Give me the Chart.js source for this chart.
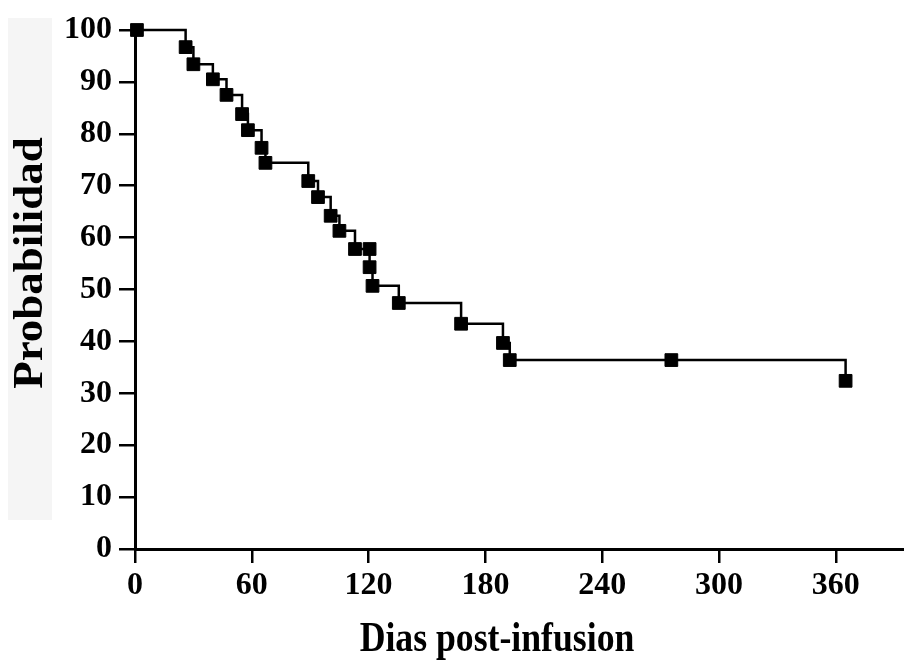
<!DOCTYPE html>
<html>
<head>
<meta charset="utf-8">
<script src="https://cdn.jsdelivr.net/npm/chart.js@4"></script>
<style>
  html, body { margin: 0; padding: 0; background: #fff; }
  #wrap { width: 904px; height: 662px; }
</style>
</head>
<body>
<div id="wrap"><canvas id="chart" width="904" height="662"></canvas></div>
<script>
// Kaplan-Meier curve, values
const days = [1, 26, 30, 40, 47, 55, 58, 65, 67, 89, 94, 100.5, 105, 113, 120.5, 120.5, 122, 135.5, 167.5, 189, 192.5, 275.5, 365];
const survival = [100, 96.7, 93.4, 90.5, 87.5, 83.8, 80.7, 77.3, 74.4, 70.9, 67.8, 64.2, 61.3, 57.8, 57.8, 54.3, 50.7, 47.4, 43.4, 39.7, 36.4, 36.4, 32.4];
const xTicks = [0, 60, 120, 180, 240, 300, 360];
const yTicks = [0, 10, 20, 30, 40, 50, 60, 70, 80, 90, 100];
const xTitle = 'Dias post-infusion';
const yTitle = 'Probabilidad';

const serif = '"Liberation Serif", "Times New Roman", serif';

// white page + light grey box behind the y title
const backdrop = {
    id: 'backdrop',
    beforeDraw(chart) {
        const ctx = chart.ctx;
        ctx.save();
        ctx.fillStyle = '#ffffff';
        ctx.fillRect(0, 0, chart.width, chart.height);
        ctx.fillStyle = '#f5f5f5';
        ctx.fillRect(8, 18, 44, 502);
        ctx.restore();
    }
};

// axis titles drawn by hand so the narrow / tall look of the original fits
const titles = {
    id: 'titles',
    afterDraw(chart) {
        const ctx = chart.ctx;
        ctx.save();
        ctx.fillStyle = '#000';
        ctx.textAlign = 'center';
        ctx.textBaseline = 'alphabetic';
        ctx.font = 'bold 43px ' + serif;
        ctx.translate(497, 651);
        ctx.scale(0.83, 1);
        ctx.fillText(xTitle, 0, 0);
        ctx.restore();

        ctx.save();
        ctx.fillStyle = '#000';
        ctx.textAlign = 'center';
        ctx.textBaseline = 'alphabetic';
        ctx.font = 'bold 42px ' + serif;
        ctx.translate(42, 263);
        ctx.rotate(-Math.PI / 2);
        ctx.scale(1.07, 1);
        ctx.fillText(yTitle, 0, 0);
        ctx.restore();
    }
};

const points = days.map((d, i) => ({ x: d, y: survival[i] }));

new Chart(document.getElementById('chart'), {
    type: 'line',
    data: {
        datasets: [{
            data: points,
            stepped: 'before',
            clip: false,
            borderColor: '#000',
            borderWidth: 2.5,
            backgroundColor: '#000',
            pointStyle: 'rect',
            pointRadius: 9,
            pointBorderWidth: 1,
            pointBorderColor: '#000',
            pointBackgroundColor: '#000',
            fill: false
        }]
    },
    options: {
        responsive: false,
        animation: false,
        layout: { autoPadding: false, padding: { top: 30, right: 0, left: 0, bottom: 0 } },
        plugins: {
            legend: { display: false },
            tooltip: { enabled: false }
        },
        scales: {
            x: {
                type: 'linear',
                min: 0,
                max: 395,
                afterBuildTicks: (scale) => { scale.ticks = xTicks.map(v => ({ value: v })); },
                afterFit: (scale) => { scale.height = 113; },
                grid: { drawOnChartArea: false, drawTicks: true, tickLength: 14, color: '#000', lineWidth: 2.5 },
                border: { display: true, color: '#000', width: 3 },
                ticks: { color: '#000', font: { family: serif, size: 32, weight: 'bold' }, padding: 4, maxRotation: 0 }
            },
            y: {
                min: 0,
                max: 100,
                afterBuildTicks: (scale) => { scale.ticks = yTicks.map(v => ({ value: v })); },
                afterFit: (scale) => { scale.width = 135; },
                grid: { drawOnChartArea: false, drawTicks: true, tickLength: 16, color: '#000', lineWidth: 2.5 },
                border: { display: true, color: '#000', width: 3 },
                ticks: { color: '#000', font: { family: serif, size: 32, weight: 'bold' }, padding: 7 }
            }
        }
    },
    plugins: [backdrop, titles]
});
</script>
</body>
</html>
